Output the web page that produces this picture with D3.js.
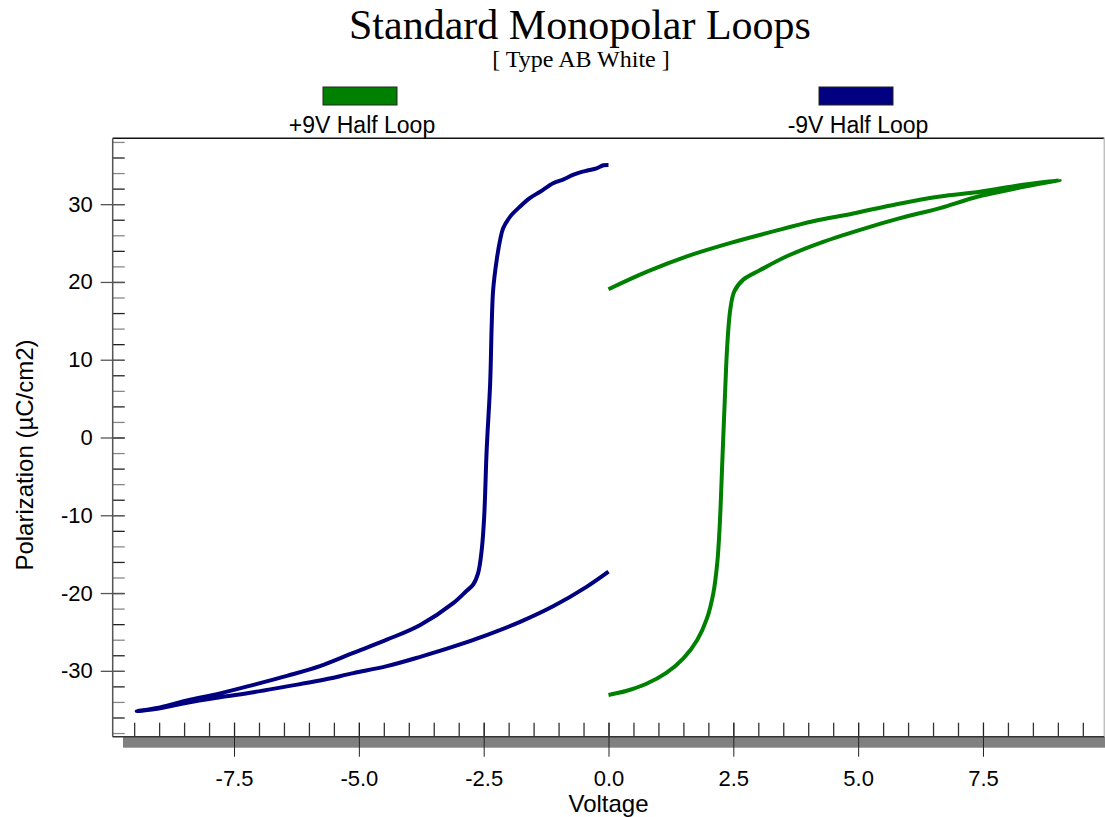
<!DOCTYPE html>
<html>
<head>
<meta charset="utf-8">
<script src="https://cdn.jsdelivr.net/npm/d3@7"></script>
<style>
  body { margin: 0; background: #fff; }
  svg { display: block; }
  .sans { font-family: 'Liberation Sans', Arial, sans-serif; }
  .serif { font-family: 'Liberation Serif', 'Times New Roman', serif; }
</style>
</head>
<body>
<svg id="chart" width="1105" height="817"></svg>
<script>
// series names and colours
var seriesNames = ["+9V Half Loop", "-9V Half Loop"];
var seriesColors = ["#008000", "#000080"];

// +9V half loop (green): voltage (V) and polarization (uC/cm2)
var greenV = [0.0, 0.35, 0.75, 1.15, 1.50, 1.78, 1.97, 2.10, 2.18, 2.23, 2.28, 2.33, 2.38, 2.44, 2.52, 2.70, 3.03,
  3.57, 4.23, 5.04, 5.84, 6.64, 7.30, 7.84, 8.37, 9.04,
  8.30, 7.44, 6.64, 5.77, 4.90, 4.10, 3.30, 2.43, 1.57, 0.76, 0.0];
var greenP = [-33.1, -32.6, -31.7, -30.3, -28.4, -26.0, -23.3, -20.0, -16.0, -11.0, -3.0, 5.0, 12.0, 16.5, 18.8, 20.3, 21.5,
  23.3, 25.0, 26.7, 28.2, 29.5, 30.8, 31.6, 32.3, 33.1,
  32.5, 31.6, 31.0, 30.0, 28.8, 27.8, 26.5, 25.0, 23.3, 21.3, 19.07];

// -9V half loop (blue)
var blueV = [0.0, -0.10, -0.24, -0.44, -0.70, -0.90, -1.11, -1.37, -1.57, -1.77, -1.97, -2.11, -2.17,
  -2.24, -2.31, -2.34, -2.37, -2.44, -2.49, -2.54, -2.61, -2.71, -2.84, -3.11, -3.77, -4.44, -5.11,
  -5.78, -6.44, -7.11, -7.78, -8.44, -8.98, -9.45,
  -8.98, -8.44, -7.78, -7.11, -6.44, -5.78, -5.11, -4.44, -3.77, -3.11, -2.44, -1.77, -1.11, -0.44, 0.0];
var blueP = [35.05, 35.0, 34.6, 34.3, 33.8, 33.2, 32.7, 31.6, 30.8, 29.7, 28.4, 26.9, 25.4,
  22.8, 19.0, 14.3, 7.0, -1.6, -10.2, -14.5, -17.4, -18.9, -19.7, -21.3, -24.1, -26.0, -27.7,
  -29.4, -30.65, -31.8, -32.9, -33.8, -34.7, -35.2,
  -34.8, -34.1, -33.4, -32.75, -32.0, -31.25, -30.3, -29.4, -28.2, -26.9, -25.4, -23.7, -21.7, -19.2, -17.25];

// ticks
var xMajor = [-7.5, -5.0, -2.5, 0.0, 2.5, 5.0, 7.5];
var xMinor = d3.range(-19, 20).map(function(i) { return i * 0.5; });
var yMajor = [-30, -20, -10, 0, 10, 20, 30];
var yMinor = d3.range(-19, 20).map(function(i) { return i * 2; });

var svg = d3.select("#chart");
var plotLeft = 112.7, plotRight = 1104.3, plotTop = 138.3, plotBottom = 736.7;

var x = d3.scaleLinear().domain([-9.93, 9.93]).range([plotLeft, plotRight]);
var y = d3.scaleLinear().domain([-38.47, 38.47]).range([plotBottom, plotTop]);

// plain hyphen for negative numbers, like the original
var fmt = d3.formatLocale({ decimal: ".", thousands: ",", grouping: [3], currency: ["", ""], minus: "-" });

// titles
svg.append("text").attr("class", "serif")
  .attr("x", 580).attr("y", 39)
  .attr("text-anchor", "middle")
  .style("font-size", "42px")
  .text("Standard Monopolar Loops");

svg.append("text").attr("class", "serif")
  .attr("x", 581).attr("y", 67)
  .attr("text-anchor", "middle")
  .style("font-size", "24px")
  .text("[ Type AB White ]");

// legend
var legendX = [360, 856];
seriesNames.forEach(function(name, i) {
  svg.append("rect")
    .attr("x", legendX[i] - 37).attr("y", 87)
    .attr("width", 74).attr("height", 18)
    .attr("fill", seriesColors[i])
    .attr("stroke", "#222").attr("stroke-width", 1);
  svg.append("text").attr("class", "sans")
    .attr("x", legendX[i] + 2).attr("y", 133)
    .attr("text-anchor", "middle")
    .style("font-size", "23px")
    .text(name);
});

// 3D floor bar under the plot
svg.append("rect")
  .attr("x", 123).attr("y", plotBottom)
  .attr("width", 1105 - 123).attr("height", 11)
  .attr("fill", "#808080");

// frame
svg.append("line").attr("x1", plotLeft).attr("x2", plotRight).attr("y1", plotTop).attr("y2", plotTop)
  .attr("stroke", "#111").attr("stroke-width", 1.5);
svg.append("line").attr("x1", plotRight).attr("x2", plotRight).attr("y1", plotTop).attr("y2", plotBottom)
  .attr("stroke", "#c0c0c0").attr("stroke-width", 1.5);

// y minor ticks (inward)
var yMinorAxis = svg.append("g")
  .attr("transform", "translate(" + plotLeft + ",0)")
  .call(d3.axisLeft(y).tickValues(yMinor).tickSize(-12).tickFormat(""));
yMinorAxis.select(".domain").remove();
yMinorAxis.selectAll(".tick line").attr("stroke", function(d, i) { return i % 2 ? "#222" : "#888"; })
  .attr("stroke-width", 1.3);

// y major ticks, crossing the axis
var yAxis = svg.append("g")
  .attr("transform", "translate(" + plotLeft + ",0)")
  .call(d3.axisLeft(y).tickValues(yMajor).tickSize(12).tickPadding(8).tickFormat(fmt.format("d")));
yAxis.select(".domain").remove();
yAxis.selectAll(".tick line").attr("x2", 12).attr("x1", -12).attr("stroke", "#555").attr("stroke-width", 1.3);
yAxis.selectAll(".tick text").attr("class", "sans")
  .style("font-size", "22px").attr("fill", "#000");

// x minor ticks (inward)
var xMinorAxis = svg.append("g")
  .attr("transform", "translate(0," + plotBottom + ")")
  .call(d3.axisBottom(x).tickValues(xMinor).tickSize(-14).tickFormat(""));
xMinorAxis.select(".domain").remove();
xMinorAxis.selectAll(".tick line").attr("stroke", "#333").attr("stroke-width", 1.3);

// x major ticks, crossing the floor bar
var xAxis = svg.append("g")
  .attr("transform", "translate(0," + plotBottom + ")")
  .call(d3.axisBottom(x).tickValues(xMajor).tickSize(20).tickPadding(14).tickFormat(fmt.format(".1f")));
xAxis.select(".domain").remove();
xAxis.selectAll(".tick line").attr("y1", -14).attr("stroke", "#222").attr("stroke-width", 1);
xAxis.selectAll(".tick text").attr("class", "sans")
  .style("font-size", "22px").attr("fill", "#000");

// axis lines
svg.append("line").attr("x1", plotLeft).attr("x2", plotLeft).attr("y1", plotTop).attr("y2", plotBottom)
  .attr("stroke", "#555").attr("stroke-width", 1.5);
svg.append("line").attr("x1", plotLeft).attr("x2", plotRight).attr("y1", plotBottom).attr("y2", plotBottom)
  .attr("stroke", "#333").attr("stroke-width", 1.5);

// axis titles
svg.append("text").attr("class", "sans")
  .attr("x", x(0)).attr("y", 812)
  .attr("text-anchor", "middle")
  .style("font-size", "24px")
  .text("Voltage");

svg.append("text").attr("class", "sans")
  .attr("transform", "translate(33,455) rotate(-90)")
  .attr("text-anchor", "middle")
  .style("font-size", "24px")
  .text("Polarization (\u00B5C/cm2)");

// loops
var line = d3.line()
  .x(function(d) { return x(d[0]); })
  .y(function(d) { return y(d[1]); })
  .curve(d3.curveCatmullRom.alpha(0.5));

var loops = [d3.zip(greenV, greenP), d3.zip(blueV, blueP)];
svg.append("g").selectAll("path")
  .data(loops)
  .join("path")
  .attr("d", line)
  .attr("fill", "none")
  .attr("stroke", function(d, i) { return seriesColors[i]; })
  .attr("stroke-width", 4)
  .attr("stroke-linejoin", "round");
</script>
</body>
</html>
